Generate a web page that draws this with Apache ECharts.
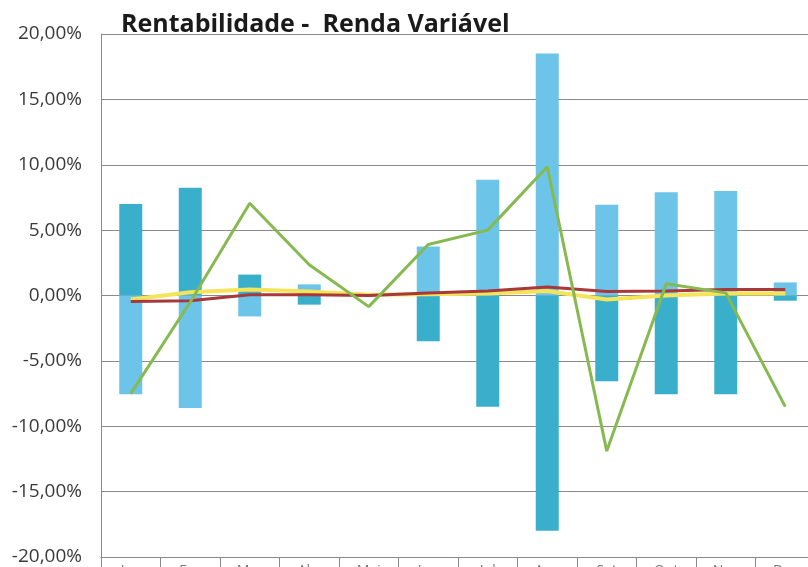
<!DOCTYPE html>
<html>
<head>
<meta charset="utf-8">
<script src="https://cdn.jsdelivr.net/npm/echarts@6/dist/echarts.min.js"></script>
<style>
html,body{margin:0;padding:0;background:#fff;}
#chart{width:808px;height:567px;}
</style>
</head>
<body>
<div id="chart"></div>
<script>
const categories = ['Jan','Fev','Mar','Abr','Mai','Jun','Jul','Ago','Set','Out','Nov','Dez'];
const barDark  = [7.0, 8.25, 1.6, -0.7, 0, -3.5, -8.5, -18.0, -6.55, -7.55, -7.55, -0.4];
const barLight = [-7.55, -8.6, -1.6, 0.85, 0, 3.75, 8.85, 18.5, 6.95, 7.9, 8.0, 1.0];
const lineGreen  = [-7.5, -0.5, 7.05, 2.35, -0.85, 3.9, 5.0, 9.85, -11.9, 0.9, 0.2, -8.5];
const lineRed    = [-0.45, -0.4, 0.05, 0.05, 0, 0.2, 0.35, 0.65, 0.3, 0.35, 0.45, 0.45];
const lineYellow = [-0.3, 0.25, 0.45, 0.3, 0.05, 0.1, 0.15, 0.35, -0.3, 0.0, 0.15, 0.15];
const yTicks = {min: -20, max: 20, interval: 5};

const chart = echarts.init(document.getElementById('chart'));
chart.setOption({
  animation: false,
  backgroundColor: '#ffffff',
  title: {
    text: 'Rentabilidade -  Renda Variável',
    left: 116, top: 7,
    textStyle: {fontFamily: 'Open Sans', fontWeight: 'bold', fontSize: 25, color: '#1a1a1a'}
  },
  grid: {left: 101, right: -7, top: 34, bottom: 10, containLabel: false, outerBoundsMode: 'none'},
  xAxis: {
    type: 'category',
    data: categories,
    boundaryGap: true,
    axisLine: {show: true, onZero: false, lineStyle: {color: '#8a8a8a', width: 1}},
    axisTick: {show: true, length: 12, lineStyle: {color: '#8a8a8a'}},
    axisLabel: {show: true, margin: 7, fontSize: 14, color: '#777', fontFamily: 'Open Sans'},
    splitLine: {show: false}
  },
  yAxis: {
    type: 'value',
    min: yTicks.min, max: yTicks.max, interval: yTicks.interval,
    axisLine: {show: true, lineStyle: {color: '#8a8a8a', width: 1}},
    axisTick: {show: false},
    axisLabel: {
      margin: 19, fontSize: 19, color: '#3a3a3a', fontFamily: 'Open Sans',
      formatter: v => v.toFixed(2).replace('.', ',') + '%'
    },
    splitLine: {show: true, lineStyle: {color: '#8a8a8a', width: 1}}
  },
  series: [
    {type: 'bar', name: 'A', stack: 's', data: barDark, barWidth: 23,
     itemStyle: {color: '#3aafcb'}, z: 2},
    {type: 'bar', name: 'B', stack: 's', data: barLight, barWidth: 23,
     itemStyle: {color: '#6cc4e8'}, z: 2},
    {type: 'line', name: 'Y', data: lineYellow, symbol: 'none',
     lineStyle: {color: '#f4e45a', width: 4}, z: 3},
    {type: 'line', name: 'R', data: lineRed, symbol: 'none',
     lineStyle: {color: '#a8383b', width: 3}, z: 4},
    {type: 'line', name: 'G', data: lineGreen, symbol: 'none',
     lineStyle: {color: '#86b94f', width: 3}, z: 5}
  ]
});
</script>
</body>
</html>
